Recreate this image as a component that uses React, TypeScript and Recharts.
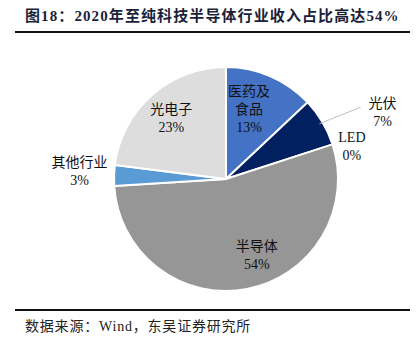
import React from "react";
import { PieChart, Pie, Cell } from "recharts";

const names = ["医药及食品", "光伏", "LED", "半导体", "其他行业", "光电子"];
const shares = [13, 7, 0, 54, 3, 23];
const colors = ["#4472C4", "#002060", "#A5A5A5", "#969696", "#5B9BD5", "#DDDDDD"];
const labelRows: Record<string, string[]> = {
  医药及食品: ["医药及", "食品"],
};

const data = names.map((name, i) => ({ name, value: shares[i] }));

// label placement: radius factor and angle shift (deg)
const place: Record<string, { r: number; da: number; leader?: boolean }> = {
  医药及食品: { r: 0.65, da: 5 },
  光伏: { r: 1.52, da: -7.5, leader: true },
  LED: { r: 1.16, da: -3.7 },
  半导体: { r: 0.74, da: 11 },
  其他行业: { r: 1.31, da: -1.3 },
  光电子: { r: 0.73, da: 0.6 },
};

const RAD = Math.PI / 180;
const FONT = "'Liberation Serif', 'Noto Sans CJK SC', serif";

const renderLabel = (props: any) => {
  const { cx, cy, midAngle, outerRadius, name, value } = props;
  const p = place[name];
  const a = (midAngle + p.da) * RAD;
  const x = cx + outerRadius * p.r * Math.cos(a);
  const y = cy - outerRadius * p.r * Math.sin(a);
  const rows = [...(labelRows[name] || [name]), `${value}%`];
  const lh = 18;
  const y0 = y - ((rows.length - 1) * lh) / 2;
  const m = midAngle * RAD;
  return (
    <g>
      {p.leader && (
        <line
          x1={cx + outerRadius * 0.97 * Math.cos(m)}
          y1={cy - outerRadius * 0.97 * Math.sin(m)}
          x2={x - 22}
          y2={y - 5}
          stroke="#BFBFBF"
          strokeWidth={1}
        />
      )}
      <text textAnchor="middle" fontFamily={FONT} fontSize={14} fill="#111">
        {rows.map((t, i) => (
          <tspan key={i} x={x} y={y0 + i * lh} dominantBaseline="central">
            {t}
          </tspan>
        ))}
      </text>
    </g>
  );
};

export default function App() {
  return (
    <div
      style={{
        position: "absolute",
        left: 0,
        top: 0,
        width: 419,
        height: 354,
        background: "#fff",
        fontFamily: FONT,
      }}
    >
      <div
        style={{
          position: "absolute",
          left: 25,
          top: 4,
          fontSize: 15,
          letterSpacing: 1.1,
          fontWeight: "bold",
          color: "#1b1f3a",
          whiteSpace: "nowrap",
        }}
      >
        图18：2020年至纯科技半导体行业收入占比高达54%
      </div>
      <div style={{ position: "absolute", left: 15, top: 31, width: 395, height: 2, background: "#111" }} />
      <PieChart width={419} height={354} style={{ position: "absolute", left: 0, top: 0 }}>
        <Pie
          data={data}
          dataKey="value"
          nameKey="name"
          cx={221}
          cy={174}
          outerRadius={112}
          startAngle={90}
          endAngle={-270}
          stroke="#fff"
          strokeWidth={2}
          label={renderLabel}
          labelLine={false}
          isAnimationActive={false}
        >
          {data.map((d, i) => (
            <Cell key={d.name} fill={colors[i]} />
          ))}
        </Pie>
      </PieChart>
      <div style={{ position: "absolute", left: 15, top: 309, width: 395, height: 2, background: "#111" }} />
      <div
        style={{
          position: "absolute",
          left: 25,
          top: 315,
          fontSize: 14,
          letterSpacing: 0.8,
          color: "#222",
          whiteSpace: "nowrap",
        }}
      >
        数据来源：Wind，东吴证券研究所
      </div>
    </div>
  );
}
